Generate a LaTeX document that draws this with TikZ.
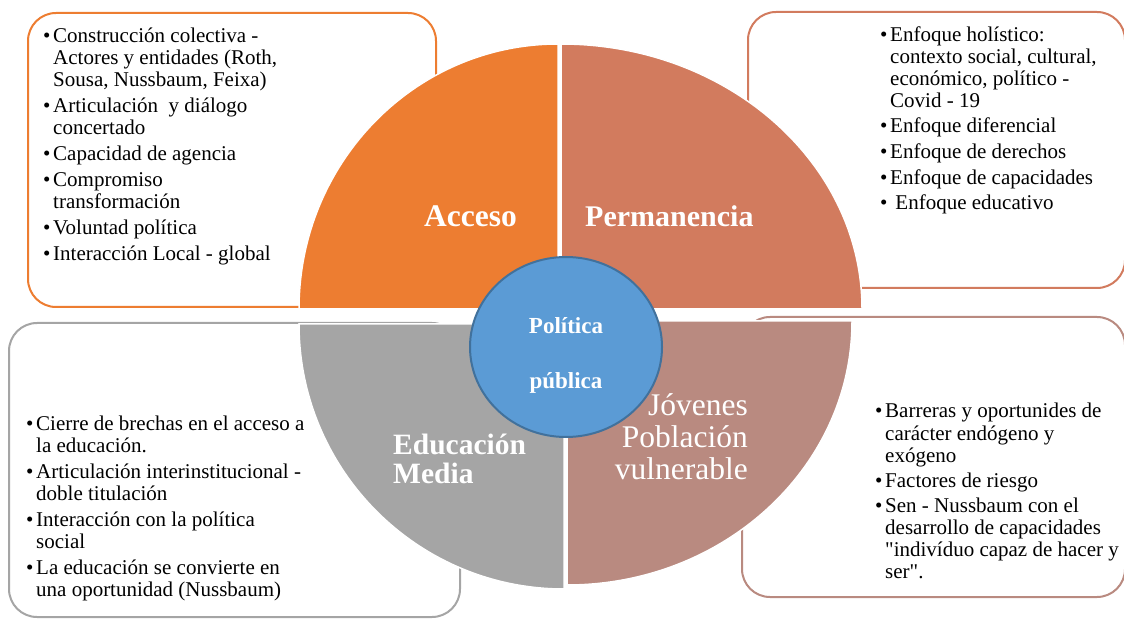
\documentclass[tikz,border=0pt]{standalone}
\usepackage{fontspec}
\setmainfont{Liberation Serif}
\newfontfamily\qfont{Liberation Serif}
\usetikzlibrary{shapes.geometric}
\definecolor{cAcc}{HTML}{ED7D31}
\definecolor{cPer}{HTML}{D27B5E}
\definecolor{cEdu}{HTML}{A5A5A5}
\definecolor{cJov}{HTML}{B98A80}
\definecolor{cPol}{HTML}{5B9BD5}
\definecolor{cPolB}{HTML}{41719C}
\newcommand{\bl}[1]{\makebox[10pt][l]{\textbullet}#1}
\newcommand{\cl}[1]{\hspace*{10pt}#1}
\newcommand{\sq}{{\qfont"}}
\tikzset{
  boxframe/.style={line width=2pt, rounded corners=28pt, fill=white},
  wedgeshape/.style={draw=white, line width=1.5pt},
  listtext/.style={anchor=base west, inner sep=0pt, font=\fontsize{21}{22}\selectfont},
  biglabel/.style={text=white, inner sep=0pt, font=\bfseries\fontsize{30}{30}\selectfont},
  jovlabel/.style={text=white, inner sep=0pt, font=\fontsize{31.5}{32}\selectfont},
  pollabel/.style={text=white, inner sep=0pt, anchor=base, font=\bfseries\fontsize{23}{23}\selectfont}
}
\begin{document}
\begin{tikzpicture}[x=1pt,y=1pt]
\useasboundingbox (0,0) rectangle (1124,619);
% boxes
\draw[boxframe, draw=cAcc] (28,606) rectangle (436,312);
\draw[boxframe, draw=cPer] (748,607) rectangle (1125,331);
\draw[boxframe, draw=cEdu] (9,296) rectangle (460,2);
\draw[boxframe, draw=cJov] (742,302) rectangle (1125,22);
% wedges
\filldraw[wedgeshape, fill=cAcc] (558,310) -- (299,310) arc[start angle=180,end angle=90,x radius=259pt,y radius=265pt] -- cycle;
\filldraw[wedgeshape, fill=cPer] (561,310) -- (561,575) arc[start angle=90,end angle=0,x radius=301pt,y radius=265pt] -- cycle;
\filldraw[wedgeshape, fill=cEdu] (564,295) -- (299,295) arc[start angle=180,end angle=270,x radius=265pt,y radius=265pt] -- cycle;
\filldraw[wedgeshape, fill=cJov] (567,298) -- (567,34) arc[start angle=270,end angle=360,x radius=285pt,y radius=264pt] -- cycle;
% center
\node[ellipse, draw=cPolB, line width=2pt, fill=cPol, minimum width=192pt, minimum height=180pt, inner sep=0pt] (pp) at (566,272) {};
\node[pollabel] (pol1) at (566,285) {Política};
\node[pollabel] (pol2) at (566,230) {pública};
% labels
\node[biglabel, anchor=base west, font=\bfseries\fontsize{31.5}{31.5}\selectfont] (acc) at (424,392) {Acceso};
\node[biglabel, anchor=base west] (per) at (585,392) {Permanencia};
\node[biglabel, anchor=base west, font=\bfseries\fontsize{29.5}{29}\selectfont] (edu) at (393,165) {\begin{tabular}[t]{@{}l@{}}Educación\\Media\end{tabular}};
\node[jovlabel, anchor=base east] (jov) at (748,204) {\begin{tabular}[t]{@{}r@{}}Jóvenes\\Población\\vulnerable\end{tabular}};
% lists
\node[listtext] (tltext) at (43,576) {\begin{tabular}[t]{@{}l@{}}
\bl{Construcción colectiva -}\\
\cl{Actores y entidades (Roth,}\\
\cl{Sousa, Nussbaum, Feixa)}\\[4pt]
\bl{Articulación~ y diálogo}\\
\cl{concertado}\\[4pt]
\bl{Capacidad de agencia}\\[4pt]
\bl{Compromiso}\\
\cl{transformación}\\[4pt]
\bl{Voluntad política}\\[4pt]
\bl{Interacción Local - global}
\end{tabular}};
\node[listtext, font=\fontsize{21}{21.7}\selectfont] (trtext) at (880,577) {\begin{tabular}[t]{@{}l@{}}
\bl{Enfoque holístico:}\\
\cl{contexto social, cultural,}\\
\cl{económico, político -}\\
\cl{Covid - 19}\\[4pt]
\bl{Enfoque diferencial}\\[4pt]
\bl{Enfoque de derechos}\\[4pt]
\bl{Enfoque de capacidades}\\[4pt]
\bl{\ Enfoque educativo}
\end{tabular}};
\node[listtext] (bltext) at (26,189) {\begin{tabular}[t]{@{}l@{}}
\bl{Cierre de brechas en el acceso a}\\
\cl{la educación.}\\[4pt]
\bl{Articulación interinstitucional -}\\
\cl{doble titulación}\\[4pt]
\bl{Interacción con la política}\\
\cl{social}\\[4pt]
\bl{La educación se convierte en}\\
\cl{una oportunidad (Nussbaum)}
\end{tabular}};
\node[listtext] (brtext) at (875,201) {\begin{tabular}[t]{@{}l@{}}
\bl{Barreras y oportunides de}\\
\cl{carácter endógeno y}\\
\cl{exógeno}\\[3pt]
\bl{Factores de riesgo}\\[3pt]
\bl{Sen - Nussbaum con el}\\
\cl{desarrollo de capacidades}\\
\cl{\sq{}indivíduo capaz de hacer y}\\
\cl{ser\sq{}.}
\end{tabular}};
\end{tikzpicture}
\end{document}
